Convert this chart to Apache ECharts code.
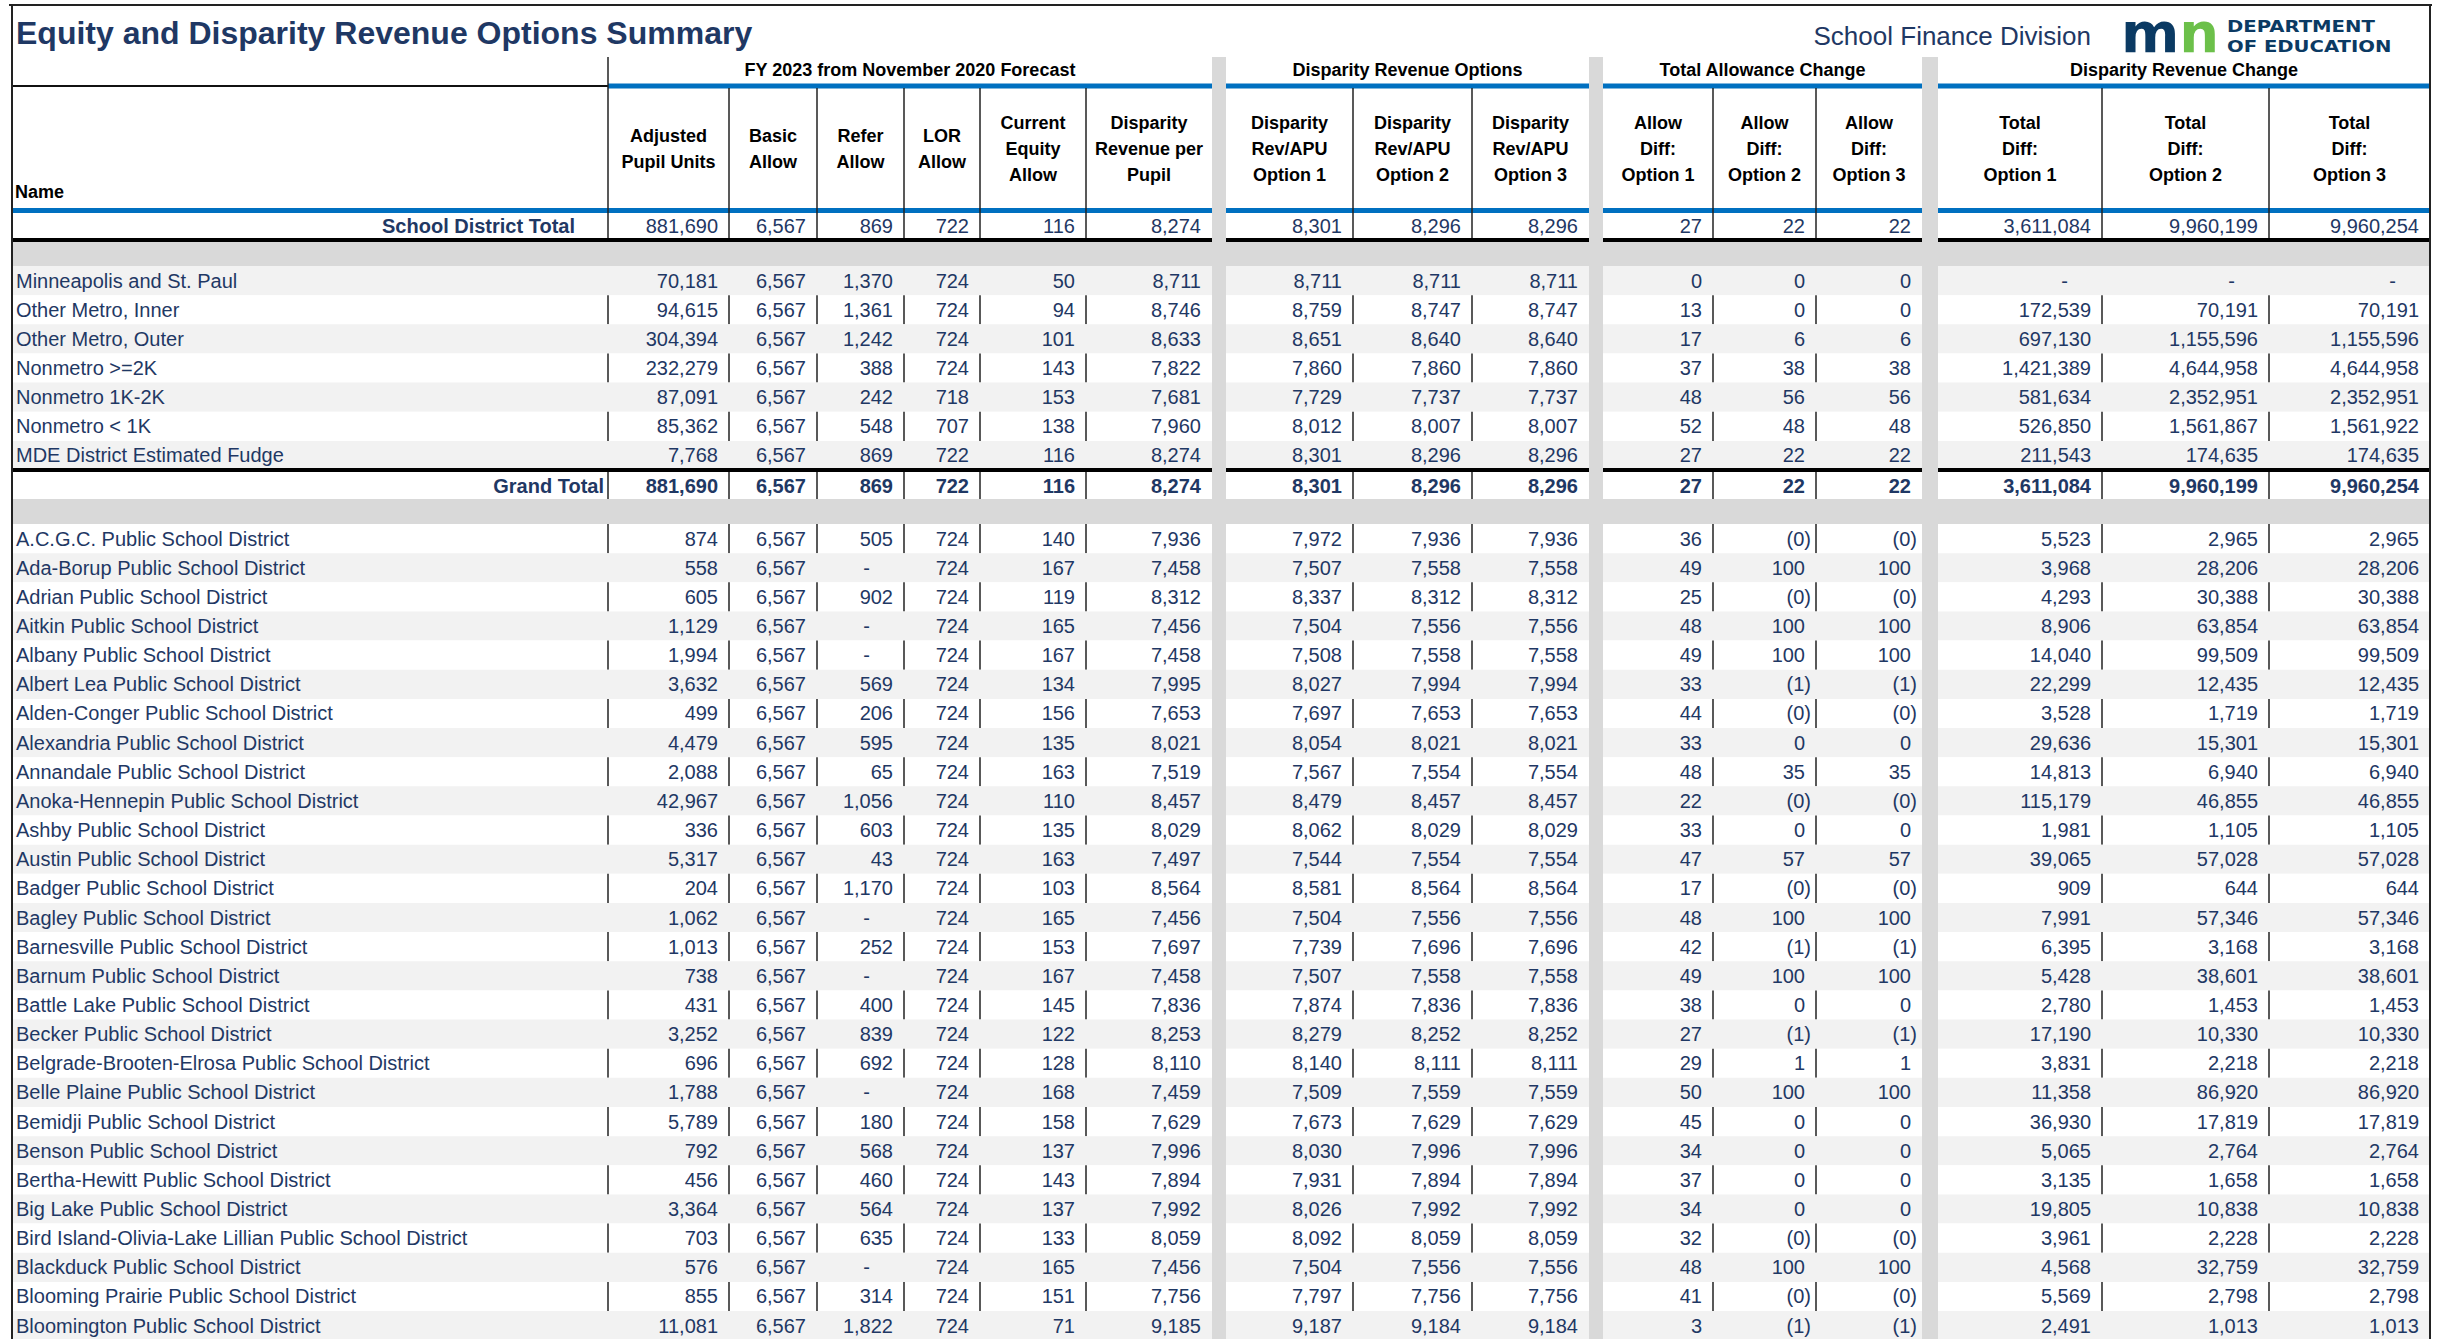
<!DOCTYPE html>
<html>
<head>
<meta charset="utf-8">
<title>Equity and Disparity Revenue Options Summary</title>
<script src="https://cdn.jsdelivr.net/npm/echarts@6/dist/echarts.min.js"></script>
<style>
  html, body { margin: 0; padding: 0; background: #fff; }
  #chart { width: 2443px; height: 1339px; }
</style>
</head>
<body>
<div id="chart"></div>
<script>
// ---- data ----
const rowNames = [
  'School District Total',
  'Minneapolis and St. Paul', 'Other Metro, Inner', 'Other Metro, Outer', 'Nonmetro >=2K',
  'Nonmetro 1K-2K', 'Nonmetro < 1K', 'MDE District Estimated Fudge',
  'Grand Total',
  'A.C.G.C. Public School District', 'Ada-Borup Public School District', 'Adrian Public School District',
  'Aitkin Public School District', 'Albany Public School District', 'Albert Lea Public School District',
  'Alden-Conger Public School District', 'Alexandria Public School District', 'Annandale Public School District',
  'Anoka-Hennepin Public School District', 'Ashby Public School District', 'Austin Public School District',
  'Badger Public School District', 'Bagley Public School District', 'Barnesville Public School District',
  'Barnum Public School District', 'Battle Lake Public School District', 'Becker Public School District',
  'Belgrade-Brooten-Elrosa Public School District', 'Belle Plaine Public School District', 'Bemidji Public School District',
  'Benson Public School District', 'Bertha-Hewitt Public School District', 'Big Lake Public School District',
  'Bird Island-Olivia-Lake Lillian Public School District', 'Blackduck Public School District',
  'Blooming Prairie Public School District', 'Bloomington Public School District'
];

const adjPupilUnits = [881690, 70181, 94615, 304394, 232279, 87091, 85362, 7768, 881690,
  874, 558, 605, 1129, 1994, 3632, 499, 4479, 2088, 42967, 336, 5317, 204, 1062, 1013, 738, 431, 3252,
  696, 1788, 5789, 792, 456, 3364, 703, 576, 855, 11081];
const basicAllow = [6567, 6567, 6567, 6567, 6567, 6567, 6567, 6567, 6567,
  6567, 6567, 6567, 6567, 6567, 6567, 6567, 6567, 6567, 6567, 6567, 6567, 6567, 6567, 6567, 6567, 6567, 6567,
  6567, 6567, 6567, 6567, 6567, 6567, 6567, 6567, 6567, 6567];
const referAllow = [869, 1370, 1361, 1242, 388, 242, 548, 869, 869,
  505, 0, 902, 0, 0, 569, 206, 595, 65, 1056, 603, 43, 1170, 0, 252, 0, 400, 839,
  692, 0, 180, 568, 460, 564, 635, 0, 314, 1822];
const lorAllow = [722, 724, 724, 724, 724, 718, 707, 722, 722,
  724, 724, 724, 724, 724, 724, 724, 724, 724, 724, 724, 724, 724, 724, 724, 724, 724, 724,
  724, 724, 724, 724, 724, 724, 724, 724, 724, 724];
const currentEquity = [116, 50, 94, 101, 143, 153, 138, 116, 116,
  140, 167, 119, 165, 167, 134, 156, 135, 163, 110, 135, 163, 103, 165, 153, 167, 145, 122,
  128, 168, 158, 137, 143, 137, 133, 165, 151, 71];
const disparityPerPupil = [8274, 8711, 8746, 8633, 7822, 7681, 7960, 8274, 8274,
  7936, 7458, 8312, 7456, 7458, 7995, 7653, 8021, 7519, 8457, 8029, 7497, 8564, 7456, 7697, 7458, 7836, 8253,
  8110, 7459, 7629, 7996, 7894, 7992, 8059, 7456, 7756, 9185];
const dispOption1 = [8301, 8711, 8759, 8651, 7860, 7729, 8012, 8301, 8301,
  7972, 7507, 8337, 7504, 7508, 8027, 7697, 8054, 7567, 8479, 8062, 7544, 8581, 7504, 7739, 7507, 7874, 8279,
  8140, 7509, 7673, 8030, 7931, 8026, 8092, 7504, 7797, 9187];
const dispOption2 = [8296, 8711, 8747, 8640, 7860, 7737, 8007, 8296, 8296,
  7936, 7558, 8312, 7556, 7558, 7994, 7653, 8021, 7554, 8457, 8029, 7554, 8564, 7556, 7696, 7558, 7836, 8252,
  8111, 7559, 7629, 7996, 7894, 7992, 8059, 7556, 7756, 9184];
const dispOption3 = [8296, 8711, 8747, 8640, 7860, 7737, 8007, 8296, 8296,
  7936, 7558, 8312, 7556, 7558, 7994, 7653, 8021, 7554, 8457, 8029, 7554, 8564, 7556, 7696, 7558, 7836, 8252,
  8111, 7559, 7629, 7996, 7894, 7992, 8059, 7556, 7756, 9184];
const allowDiff1 = [27, 0, 13, 17, 37, 48, 52, 27, 27,
  36, 49, 25, 48, 49, 33, 44, 33, 48, 22, 33, 47, 17, 48, 42, 49, 38, 27,
  29, 50, 45, 34, 37, 34, 32, 48, 41, 3];
// small negatives show as (0) in the report
const allowDiff2 = [22, 0, 0, 6, 38, 56, 48, 22, 22,
  -0.3, 100, -0.3, 100, 100, -1, -0.3, 0, 35, -0.3, 0, 57, -0.3, 100, -1, 100, 0, -1,
  1, 100, 0, 0, 0, 0, -0.3, 100, -0.3, -1];
const allowDiff3 = [22, 0, 0, 6, 38, 56, 48, 22, 22,
  -0.3, 100, -0.3, 100, 100, -1, -0.3, 0, 35, -0.3, 0, 57, -0.3, 100, -1, 100, 0, -1,
  1, 100, 0, 0, 0, 0, -0.3, 100, -0.3, -1];
const totalDiff1 = [3611084, 0, 172539, 697130, 1421389, 581634, 526850, 211543, 3611084,
  5523, 3968, 4293, 8906, 14040, 22299, 3528, 29636, 14813, 115179, 1981, 39065, 909, 7991, 6395, 5428, 2780, 17190,
  3831, 11358, 36930, 5065, 3135, 19805, 3961, 4568, 5569, 2491];
const totalDiff2 = [9960199, 0, 70191, 1155596, 4644958, 2352951, 1561867, 174635, 9960199,
  2965, 28206, 30388, 63854, 99509, 12435, 1719, 15301, 6940, 46855, 1105, 57028, 644, 57346, 3168, 38601, 1453, 10330,
  2218, 86920, 17819, 2764, 1658, 10838, 2228, 32759, 2798, 1013];
const totalDiff3 = [9960254, 0, 70191, 1155596, 4644958, 2352951, 1561922, 174635, 9960254,
  2965, 28206, 30388, 63854, 99509, 12435, 1719, 15301, 6940, 46855, 1105, 57028, 644, 57346, 3168, 38601, 1453, 10330,
  2218, 86920, 17819, 2764, 1658, 10838, 2228, 32759, 2798, 1013];

const sectionTitles = ['FY 2023 from November 2020 Forecast', 'Disparity Revenue Options',
  'Total Allowance Change', 'Disparity Revenue Change'];
const columnHeaders = [
  'Adjusted\nPupil Units', 'Basic\nAllow', 'Refer\nAllow', 'LOR\nAllow', 'Current\nEquity\nAllow',
  'Disparity\nRevenue per\nPupil',
  'Disparity\nRev/APU\nOption 1', 'Disparity\nRev/APU\nOption 2', 'Disparity\nRev/APU\nOption 3',
  'Allow\nDiff:\nOption 1', 'Allow\nDiff:\nOption 2', 'Allow\nDiff:\nOption 3',
  'Total\nDiff:\nOption 1', 'Total\nDiff:\nOption 2', 'Total\nDiff:\nOption 3'
];

const colValues = [adjPupilUnits, basicAllow, referAllow, lorAllow, currentEquity, disparityPerPupil,
  dispOption1, dispOption2, dispOption3, allowDiff1, allowDiff2, allowDiff3, totalDiff1, totalDiff2, totalDiff3];
const colKinds = ['num', 'num', 'acct', 'num', 'num', 'num', 'num', 'num', 'num',
  'paren', 'paren', 'paren', 'acct', 'acct', 'acct'];

// ---- layout ----
const W = 2443, H = 1339;
const LEFT = 12, RIGHT = 2430, NAME_RIGHT = 608;
const sections = [
  { edges: [608, 729, 817, 904, 980, 1086, 1212] },
  { edges: [1226, 1353, 1472, 1589] },
  { edges: [1603, 1713, 1816, 1922] },
  { edges: [1938, 2102, 2269, 2430] }
];
const gaps = [[1212, 1226], [1589, 1603], [1922, 1938]];
const ROW_H = 29.15;
const NAVY = '#1f3864';
const TEXT = '#1f3864';
const BLUE = '#0070c0';
const LOGO_NAVY = '#0b3a63';
const FONT = '"Liberation Sans", Arial, sans-serif';

const columns = [];
sections.forEach(function (s, si) {
  for (let k = 0; k < s.edges.length - 1; k++) {
    columns.push({ x0: s.edges[k], x1: s.edges[k + 1], sec: si });
  }
});
const innerEdges = [NAME_RIGHT];
sections.forEach(function (s) {
  for (let k = 1; k < s.edges.length - 1; k++) innerEdges.push(s.edges[k]);
});

function rowBox(i) {
  if (i === 0) return [213, 238];
  if (i <= 7) { const t = 266 + (i - 1) * ROW_H; return [t, t + ROW_H]; }
  if (i === 8) return [472, 499];
  const t = 524 + (i - 9) * ROW_H;
  return [t, t + ROW_H];
}
function isWhiteRow(i) {
  if (i === 0 || i === 8) return true;
  if (i <= 7) return (i - 1) % 2 === 1;
  return (i - 9) % 2 === 0;
}
function fmt(v, kind) {
  if (kind === 'acct' && v === 0) return '-';
  const s = Math.round(Math.abs(v)).toLocaleString('en-US');
  return v < 0 ? '(' + s + ')' : s;
}

function renderRow(params, api) {
  const i = api.value(0);
  const box = rowBox(i);
  const tl = api.coord([LEFT, box[0]]);
  const br = api.coord([RIGHT, box[1]]);
  const top = tl[1], bottom = br[1], cy = (top + bottom) / 2;
  const white = isWhiteRow(i);
  const boldVals = i === 8;
  const children = [{
    type: 'rect',
    shape: { x: tl[0], y: top, width: br[0] - tl[0], height: bottom - top },
    style: { fill: white ? '#ffffff' : '#f2f2f2' }
  }];
  // name cell
  let nx = 16, nAlign = 'left', nBold = false;
  if (i === 0) { nx = 575; nAlign = 'right'; nBold = true; }
  if (i === 8) { nx = 604; nAlign = 'right'; nBold = true; }
  children.push({
    type: 'text',
    style: {
      text: rowNames[i], x: api.coord([nx, 0])[0], y: cy,
      align: nAlign, verticalAlign: 'middle',
      font: (nBold ? 'bold ' : '') + '20px ' + FONT, fill: TEXT
    }
  });
  columns.forEach(function (c, k) {
    const v = colValues[k][i];
    const text = fmt(v, colKinds[k]);
    let rx = c.x1 - 11;
    if (text === '-') rx = c.x1 - 34;
    else if (v < 0) rx = c.x1 - 5;
    children.push({
      type: 'text',
      style: {
        text: text, x: api.coord([rx, 0])[0], y: cy,
        align: 'right', verticalAlign: 'middle',
        font: (boldVals ? 'bold ' : '') + '20px ' + FONT, fill: TEXT
      }
    });
  });
  if (white) {
    innerEdges.forEach(function (x) {
      const px = api.coord([x, 0])[0];
      children.push({
        type: 'line',
        shape: { x1: px, y1: top, x2: px, y2: bottom },
        style: { stroke: '#222', lineWidth: 1.5 }
      });
    });
  }
  return { type: 'group', children: children };
}

// ---- static frame: title, headers, rules ----
const graphics = [];
function line(x1, y1, x2, y2, color, w, z) {
  graphics.push({ type: 'line', z: z || 20, silent: true,
    shape: { x1: x1, y1: y1, x2: x2, y2: y2 }, style: { stroke: color, lineWidth: w } });
}
function rect(x, y, w, h, color, z) {
  graphics.push({ type: 'rect', z: z || 10, silent: true,
    shape: { x: x, y: y, width: w, height: h }, style: { fill: color } });
}
function label(text, x, y, font, color, align, extra) {
  graphics.push({ type: 'text', z: 30, silent: true,
    style: Object.assign({ text: text, x: x, y: y, font: font, fill: color,
      align: align || 'left', verticalAlign: 'middle' }, extra || {}) });
}

gaps.forEach(function (g) { rect(g[0], 57, g[1] - g[0], H - 57, '#d9d9d9'); });
rect(LEFT, 242, RIGHT - LEFT, 24, '#d9d9d9');
rect(LEFT, 499, RIGHT - LEFT, 25, '#d9d9d9');

line(LEFT, 86, NAME_RIGHT, 86, '#111', 2);
sections.forEach(function (s, si) {
  const x0 = s.edges[0], x1 = s.edges[s.edges.length - 1];
  line(x0, 86, x1, 86, BLUE, 5);
  line(si === 0 ? LEFT : x0, 210.5, x1, 210.5, BLUE, 5);
  line(si === 0 ? LEFT : x0, 240, x1, 240, '#000', 4);
  line(si === 0 ? LEFT : x0, 470, x1, 470, '#000', 4);
});
innerEdges.forEach(function (x) {
  line(x, x === NAME_RIGHT ? 57 : 88, x, 213, '#222', 1.5);
});
line(LEFT - 3, 5, RIGHT + 2, 5, '#222', 2, 25);
line(LEFT, 5, LEFT, H, '#222', 2, 25);
line(RIGHT, 5, RIGHT, H, '#222', 2, 25);

label('Equity and Disparity Revenue Options Summary', 16, 33, 'bold 32px ' + FONT, NAVY);
label('School Finance Division', 2091, 36, '26px ' + FONT, NAVY, 'right');
const logoFont = 'bold 56px "DejaVu Sans", sans-serif';
label('{m|m}{n|n}', 2121, 32, logoFont, LOGO_NAVY, 'left', {
  rich: { m: { font: logoFont, fill: LOGO_NAVY }, n: { font: logoFont, fill: '#6cc04a' } }
});
// wordmark lines, stretched sideways to get the wide letter spacing of the logo
['DEPARTMENT', 'OF EDUCATION'].forEach(function (t, k) {
  graphics.push({
    type: 'text', z: 30, silent: true, x: 2227, y: 26.5 + k * 20, scaleX: 1.19,
    style: { text: t, x: 0, y: 0, font: 'bold 16.5px "DejaVu Sans", sans-serif', fill: LOGO_NAVY,
      align: 'left', verticalAlign: 'middle' }
  });
});

sections.forEach(function (s, si) {
  const x0 = s.edges[0], x1 = s.edges[s.edges.length - 1];
  label(sectionTitles[si], (x0 + x1) / 2, 70, 'bold 18px ' + FONT, '#000', 'center');
});
columns.forEach(function (c, k) {
  label(columnHeaders[k], (c.x0 + c.x1) / 2, 149, 'bold 18px ' + FONT, '#000', 'center', { lineHeight: 26 });
});
label('Name', 15, 192, 'bold 18px ' + FONT, '#000');

const chart = echarts.init(document.getElementById('chart'), null, { renderer: 'svg' });
chart.setOption({
  animation: false,
  backgroundColor: '#ffffff',
  grid: { left: 0, right: 0, top: 0, bottom: 0, containLabel: false, outerBoundsMode: 'none' },
  xAxis: { type: 'value', min: 0, max: W, show: false },
  yAxis: { type: 'value', min: 0, max: H, inverse: true, show: false },
  graphic: { elements: graphics },
  series: [{
    type: 'custom',
    name: 'rows',
    silent: true,
    clip: false,
    renderItem: renderRow,
    data: rowNames.map(function (n, i) { return [i, i]; })
  }]
});
</script>
</body>
</html>
